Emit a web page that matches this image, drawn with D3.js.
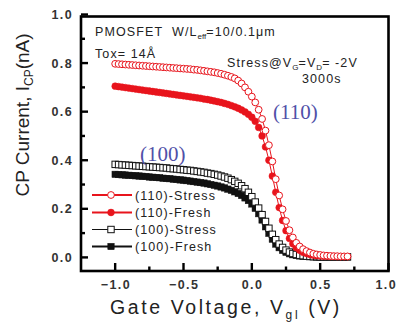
<!DOCTYPE html>
<html>
<head>
<meta charset="utf-8">
<script src="https://cdn.jsdelivr.net/npm/d3@7"></script>
<style>
  body { margin: 0; background: #fff; }
  svg { display: block; }
  text { font-family: "Liberation Sans", Arial, sans-serif; fill: #222; white-space: pre; }
  text.serif { font-family: "Liberation Serif", "Times New Roman", serif; fill: #5050a8; }
</style>
</head>
<body>
<div id="chart"></div>
<script>
'use strict';

// gate voltage sweep (V)
const gateV = [
  -1.000, -0.975, -0.950, -0.925, -0.900, -0.875, -0.850, -0.825, -0.800, -0.775,
  -0.750, -0.725, -0.700, -0.675, -0.650, -0.625, -0.600, -0.575, -0.550, -0.525,
  -0.500, -0.475, -0.450, -0.425, -0.400, -0.375, -0.350, -0.325, -0.300, -0.275,
  -0.250, -0.225, -0.200, -0.175, -0.150, -0.125, -0.100, -0.075, -0.050, -0.025,
   0.000,  0.025,  0.050,  0.075,  0.100,  0.125,  0.150,  0.175,  0.200,  0.225,
   0.250,  0.275,  0.300,  0.325,  0.350,  0.375,  0.400,  0.425,  0.450,  0.475,
   0.500,  0.525,  0.550,  0.575,  0.600,  0.625,  0.650,  0.675,  0.700
];

// charge pumping current (nA)
const i110Stress = [
  0.797, 0.796, 0.795, 0.794, 0.793, 0.792, 0.791, 0.790, 0.789, 0.788,
  0.787, 0.786, 0.785, 0.784, 0.783, 0.782, 0.781, 0.780, 0.779, 0.778,
  0.777, 0.776, 0.775, 0.773, 0.772, 0.770, 0.768, 0.766, 0.764, 0.762,
  0.759, 0.756, 0.752, 0.748, 0.743, 0.737, 0.728, 0.716, 0.700, 0.682,
  0.662, 0.638, 0.608, 0.570, 0.522, 0.462, 0.395, 0.322, 0.255, 0.198,
  0.150, 0.112, 0.082, 0.060, 0.045, 0.034, 0.026, 0.020, 0.015, 0.012,
  0.010, 0.008, 0.007, 0.006, 0.005, 0.005, 0.004, 0.004, 0.004
];
const i110Fresh = [
  0.705, 0.703, 0.701, 0.699, 0.697, 0.695, 0.693, 0.691, 0.689, 0.687,
  0.685, 0.683, 0.681, 0.679, 0.677, 0.675, 0.673, 0.671, 0.669, 0.667,
  0.665, 0.663, 0.661, 0.659, 0.657, 0.655, 0.652, 0.650, 0.647, 0.644,
  0.641, 0.638, 0.634, 0.630, 0.625, 0.620, 0.614, 0.607, 0.599, 0.589,
  0.577, 0.560, 0.535, 0.500, 0.455, 0.400, 0.335, 0.268, 0.205, 0.152,
  0.110, 0.078, 0.056, 0.040, 0.029, 0.021, 0.016, 0.012, 0.009, 0.007,
  0.006, 0.005, 0.005, 0.004, 0.004, 0.003, 0.003, 0.003, 0.003
];
const i100Stress = [
  0.383, 0.382, 0.381, 0.380, 0.379, 0.378, 0.377, 0.376, 0.375, 0.374,
  0.373, 0.372, 0.371, 0.370, 0.369, 0.368, 0.366, 0.365, 0.364, 0.362,
  0.361, 0.359, 0.358, 0.356, 0.354, 0.352, 0.350, 0.347, 0.345, 0.342,
  0.339, 0.335, 0.331, 0.326, 0.320, 0.313, 0.305, 0.295, 0.283, 0.268,
  0.250, 0.228, 0.203, 0.176, 0.148, 0.120, 0.095, 0.073, 0.055, 0.041,
  0.030, 0.022, 0.016, 0.012, 0.009, 0.007, 0.005, 0.004, 0.003, 0.003,
  0.002, 0.002, 0.002, 0.002, 0.002, 0.002, 0.002, 0.002, 0.002
];
const i100Fresh = [
  0.342, 0.341, 0.340, 0.339, 0.338, 0.337, 0.336, 0.335, 0.334, 0.333,
  0.331, 0.330, 0.329, 0.328, 0.326, 0.325, 0.324, 0.322, 0.321, 0.319,
  0.318, 0.316, 0.314, 0.312, 0.310, 0.308, 0.306, 0.303, 0.300, 0.297,
  0.294, 0.290, 0.286, 0.281, 0.276, 0.270, 0.263, 0.255, 0.245, 0.234,
  0.220, 0.202, 0.180, 0.154, 0.126, 0.099, 0.075, 0.055, 0.040, 0.029,
  0.021, 0.015, 0.011, 0.008, 0.006, 0.005, 0.004, 0.003, 0.003, 0.002,
  0.002, 0.002, 0.002, 0.002, 0.002, 0.002, 0.002, 0.002, 0.002
];

const xTicks = [-1.0, -0.5, 0.0, 0.5, 1.0];
const xMinorTicks = [-0.75, -0.25, 0.25, 0.75];
const yTicks = [0.0, 0.2, 0.4, 0.6, 0.8, 1.0];
const yMinorTicks = [0.1, 0.3, 0.5, 0.7, 0.9];

const RED = "#e8141c";
const BLACK = "#111";

const series = [
  {name: "(110)-Stress", values: i110Stress, color: RED, shape: "circle", filled: false, legendWidth: 2},
  {name: "(110)-Fresh", values: i110Fresh, color: RED, shape: "circle", filled: true, legendWidth: 2},
  {name: "(100)-Stress", values: i100Stress, color: BLACK, shape: "square", filled: false, legendWidth: 1.2},
  {name: "(100)-Fresh", values: i100Fresh, color: BLACK, shape: "square", filled: true, legendWidth: 2}
];

const width = 398, height = 324;
const plot = {left: 81, right: 388.5, top: 16.5, bottom: 271};

const x = d3.scaleLinear().domain([-1.25, 1.0]).range([plot.left, plot.right]);
const y = d3.scaleLinear().domain([-0.056, 1.0]).range([plot.bottom, plot.bottom - 1.056 * 242.9]);

const svg = d3.select("#chart").append("svg")
  .attr("width", width)
  .attr("height", height);

const line = d3.line()
  .x(function(d) { return x(d.v); })
  .y(function(d) { return y(d.i); });

function drawMarker(g, s, cx, cy) {
  if (s.shape === "circle") {
    g.append("circle")
      .attr("cx", cx).attr("cy", cy)
      .attr("r", s.filled ? 3.4 : 3.4)
      .attr("fill", s.filled ? s.color : "#fff")
      .attr("stroke", s.color)
      .attr("stroke-width", s.filled ? 0.5 : 1);
  } else {
    const a = 6.4;
    g.append("rect")
      .attr("x", cx - a / 2).attr("y", cy - a / 2)
      .attr("width", a).attr("height", a)
      .attr("fill", s.filled ? s.color : "#fff")
      .attr("stroke", s.color)
      .attr("stroke-width", s.filled ? 0.5 : 1);
  }
}

// draw order: black series first, then red (fresh under stress)
const drawOrder = [series[3], series[2], series[1], series[0]];
drawOrder.forEach(function(s) {
  const pts = gateV.map(function(v, k) { return {v: v, i: s.values[k]}; });
  const g = svg.append("g");
  g.append("path")
    .datum(pts)
    .attr("d", line)
    .attr("fill", "none")
    .attr("stroke", s.color)
    .attr("stroke-width", 1);
  pts.forEach(function(d) { drawMarker(g, s, x(d.v), y(d.i)); });
});

// frame
svg.append("rect")
  .attr("x", plot.left).attr("y", plot.top)
  .attr("width", plot.right - plot.left)
  .attr("height", plot.bottom - plot.top)
  .attr("fill", "none")
  .attr("stroke", "#000")
  .attr("stroke-width", 2.6);

// ticks, pointing inward
const ticks = svg.append("g").attr("stroke", "#000").attr("stroke-width", 2.4);
xTicks.forEach(function(t) {
  ticks.append("line").attr("x1", x(t)).attr("x2", x(t)).attr("y1", plot.bottom).attr("y2", plot.bottom - 8);
});
xMinorTicks.forEach(function(t) {
  ticks.append("line").attr("x1", x(t)).attr("x2", x(t)).attr("y1", plot.bottom).attr("y2", plot.bottom - 4.5);
});
yTicks.forEach(function(t) {
  ticks.append("line").attr("x1", plot.left).attr("x2", plot.left + 7).attr("y1", y(t)).attr("y2", y(t));
});
yMinorTicks.forEach(function(t) {
  ticks.append("line").attr("x1", plot.left).attr("x2", plot.left + 4).attr("y1", y(t)).attr("y2", y(t));
});

const fmt = d3.format(".1f");
svg.append("g").selectAll("text")
  .data(xTicks)
  .join("text")
  .attr("x", function(d, k) { return k === xTicks.length - 1 ? 397 : x(d) + 0.7; })
  .attr("y", 289)
  .attr("text-anchor", function(d, k) { return k === xTicks.length - 1 ? "end" : "middle"; })
  .attr("font-size", 12.5)
  .attr("font-weight", "bold")
  .attr("letter-spacing", 1.4)
  .style("fill", "#333")
  .text(fmt);

svg.append("g").selectAll("text")
  .data(yTicks)
  .join("text")
  .attr("x", 73)
  .attr("y", function(d) { return y(d) + 4.5; })
  .attr("text-anchor", "end")
  .attr("font-size", 12.5)
  .attr("font-weight", "bold")
  .attr("letter-spacing", 1.4)
  .style("fill", "#333")
  .text(fmt);

// axis titles
const xt = svg.append("text")
  .attr("x", 110)
  .attr("y", 314)
  .attr("font-size", 19.5)
  .attr("letter-spacing", 2.6);
xt.append("tspan").text("Gate Voltage, V");
xt.append("tspan").attr("font-size", 12).attr("dy", 5).text("gl");
xt.append("tspan").attr("dy", -5).text(" (V)");

const yt = svg.append("text")
  .attr("transform", "translate(29,115) rotate(-90)")
  .attr("text-anchor", "middle")
  .attr("font-size", 19);
yt.append("tspan").text("CP Current, I");
yt.append("tspan").attr("font-size", 12).attr("dy", 4).text("CP");
yt.append("tspan").attr("dy", -4).text("(nA)");

// annotations
const note = svg.append("g").attr("font-size", 12.5).attr("letter-spacing", 1.1);
const n1 = note.append("text").attr("x", 95).attr("y", 36);
n1.append("tspan").text("PMOSFET  W/L");
n1.append("tspan").attr("font-size", 8).attr("dy", 3).attr("letter-spacing", 0).text("eff");
n1.append("tspan").attr("dy", -3).text("=10/0.1\u03bcm");
note.append("text").attr("x", 95).attr("y", 58).text("Tox= 14\u00c5");
const n3 = note.append("text").attr("x", 227).attr("y", 66.5);
n3.append("tspan").text("Stress@V");
n3.append("tspan").attr("font-size", 8).attr("dy", 3).attr("letter-spacing", 0).text("G");
n3.append("tspan").attr("dy", -3).text("=V");
n3.append("tspan").attr("font-size", 8).attr("dy", 3).attr("letter-spacing", 0).text("D");
n3.append("tspan").attr("dy", -3).text("= -2V");
note.append("text").attr("x", 302).attr("y", 83).text("3000s");

const blue = svg.append("g").attr("font-size", 21);
blue.append("text").attr("class", "serif").attr("x", 273).attr("y", 119).text("(110)");
blue.append("text").attr("class", "serif").attr("x", 140).attr("y", 161).text("(100)");

// legend
const legendRows = [195, 212.5, 229.5, 246.5];
const legend = svg.append("g");
series.forEach(function(s, k) {
  const ly = legendRows[k];
  legend.append("line")
    .attr("x1", 92).attr("x2", 132)
    .attr("y1", ly).attr("y2", ly)
    .attr("stroke", s.color)
    .attr("stroke-width", s.legendWidth);
  drawMarker(legend, s, 111, ly);
  legend.append("text")
    .attr("x", 135).attr("y", ly + 4.5)
    .attr("font-size", 12.5)
    .attr("letter-spacing", 1.1)
    .text(s.name);
});
</script>
</body>
</html>
